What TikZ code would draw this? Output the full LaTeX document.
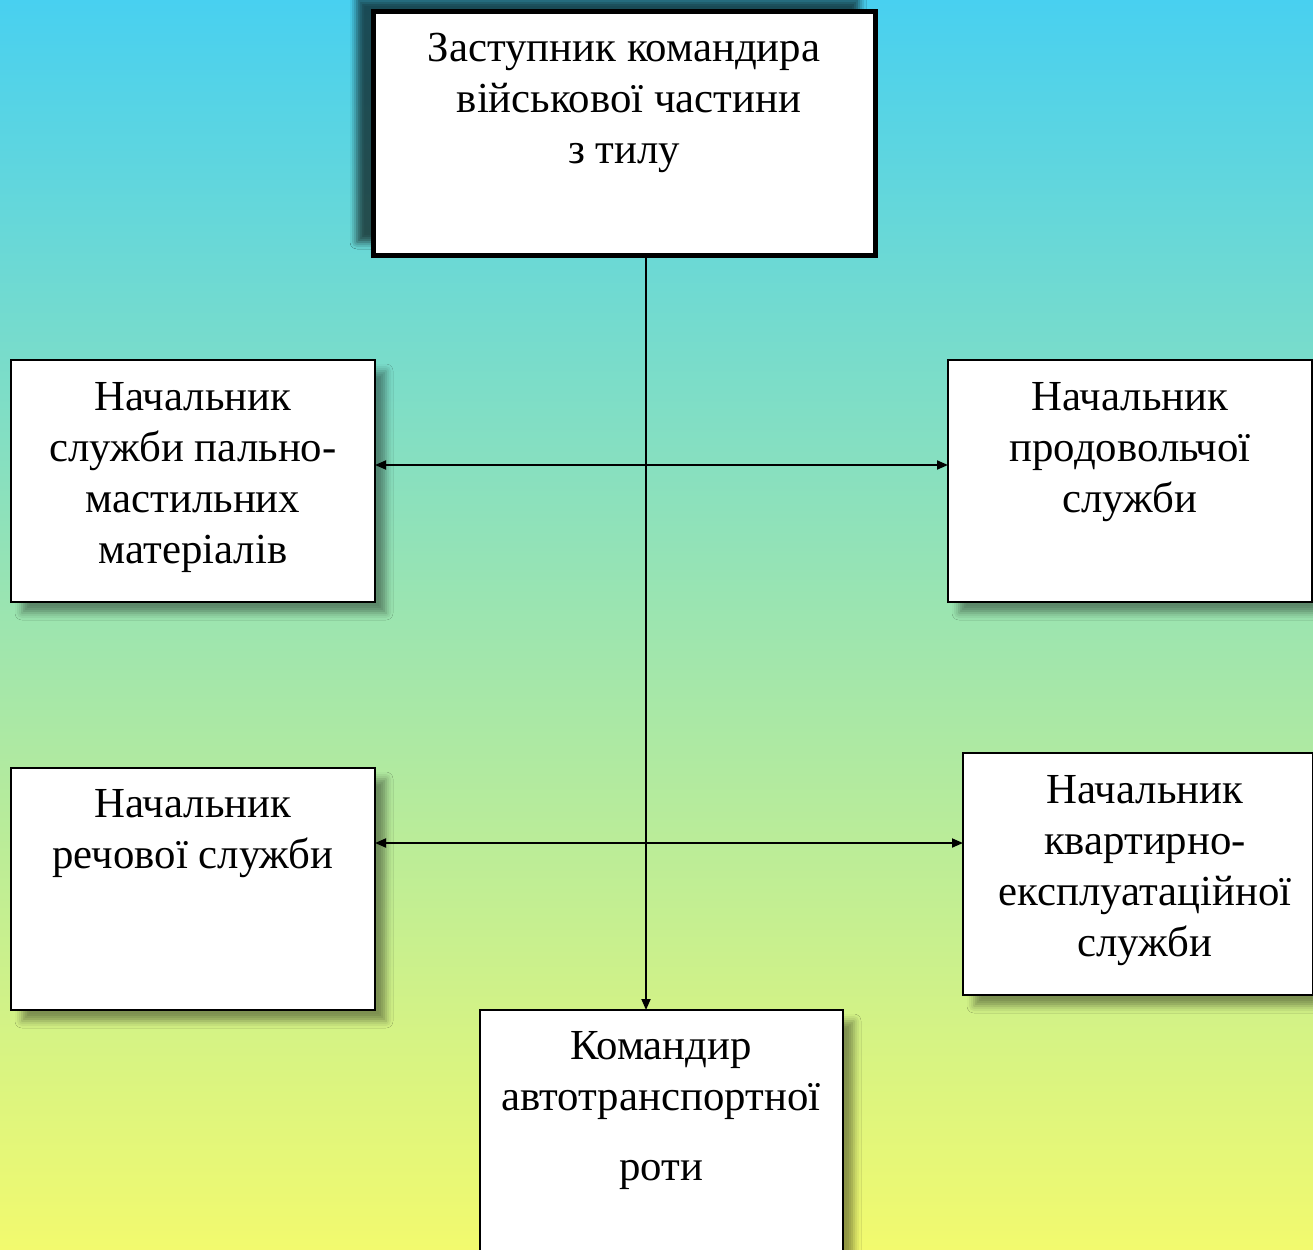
\documentclass[tikz,border=0pt]{standalone}
\usepackage{fontspec}
\setmainfont{Liberation Serif}
\usetikzlibrary{shadows.blur,arrows.meta,calc}
\definecolor{bgtop}{RGB}{72,208,240}
\definecolor{bgbot}{RGB}{242,250,110}
\begin{document}
\begin{tikzpicture}[x=1pt,y=-1pt,
  box/.style={draw=black, line width=2.2pt, fill=white, outer sep=0pt, inner sep=0pt, anchor=north west,
    blur shadow={shadow xshift=11pt, shadow yshift=-11pt, shadow blur radius=7pt, shadow opacity=40}},
  topbox/.style={box, line width=5pt,
    blur shadow={shadow xshift=-16pt, shadow yshift=13pt, shadow blur radius=7pt, shadow opacity=40}},
  txt/.style={align=center, anchor=north, inner sep=0pt, font=\fontsize{42.8}{51}\selectfont},
  conn/.style={line width=1.8pt},
  tip/.style={-{Triangle[length=11pt,width=9pt]}},
  tips/.style={{Triangle[length=11pt,width=9pt]}-{Triangle[length=11pt,width=9pt]}}]
\useasboundingbox (0,0) rectangle (1313,1249);
\clip (0,0) rectangle (1313,1249);
\shade[top color=bgtop, bottom color=bgbot] (0,0) rectangle (1313,1249);

\node[topbox, minimum width=502, minimum height=243] (top) at (373,12) {};
\node[box, minimum width=364, minimum height=242] (l1) at (11,360) {};
\node[box, minimum width=364, minimum height=242] (r1) at (948,360) {};
\node[box, minimum width=364, minimum height=242] (l2) at (11,768) {};
\node[box, minimum width=350, minimum height=242] (r2) at (963,753) {};
\node[box, minimum width=363, minimum height=260] (bot) at (480,1010) {};

\node[txt] (ttop) at (624,33) {Заступник командира\\\hspace*{10pt}військової частини\\з тилу};
\node[txt] (tl1) at (193,382) {Начальник\\служби пально-\\мастильних\\матеріалів};
\node[txt] (tr1) at (1130,382) {Начальник\\продовольчої\\служби};
\node[txt] (tl2) at (193,789) {Начальник\\речової служби};
\node[txt] (tr2) at (1145,775) {Начальник\\квартирно-\\експлуатаційної\\служби};
\node[txt] (tbot) at (661,1031) {Командир\\автотранспортної\\[19pt]роти};

\coordinate (spine) at (646,0);
\coordinate (h1) at (0,465);
\coordinate (h2) at (0,843);
\draw[conn,tip] (top.south -| spine) -- (bot.north -| spine);
\draw[conn,tips] (l1.east |- h1) -- (r1.west |- h1);
\draw[conn,tips] (l2.east |- h2) -- (r2.west |- h2);
\end{tikzpicture}
\end{document}
